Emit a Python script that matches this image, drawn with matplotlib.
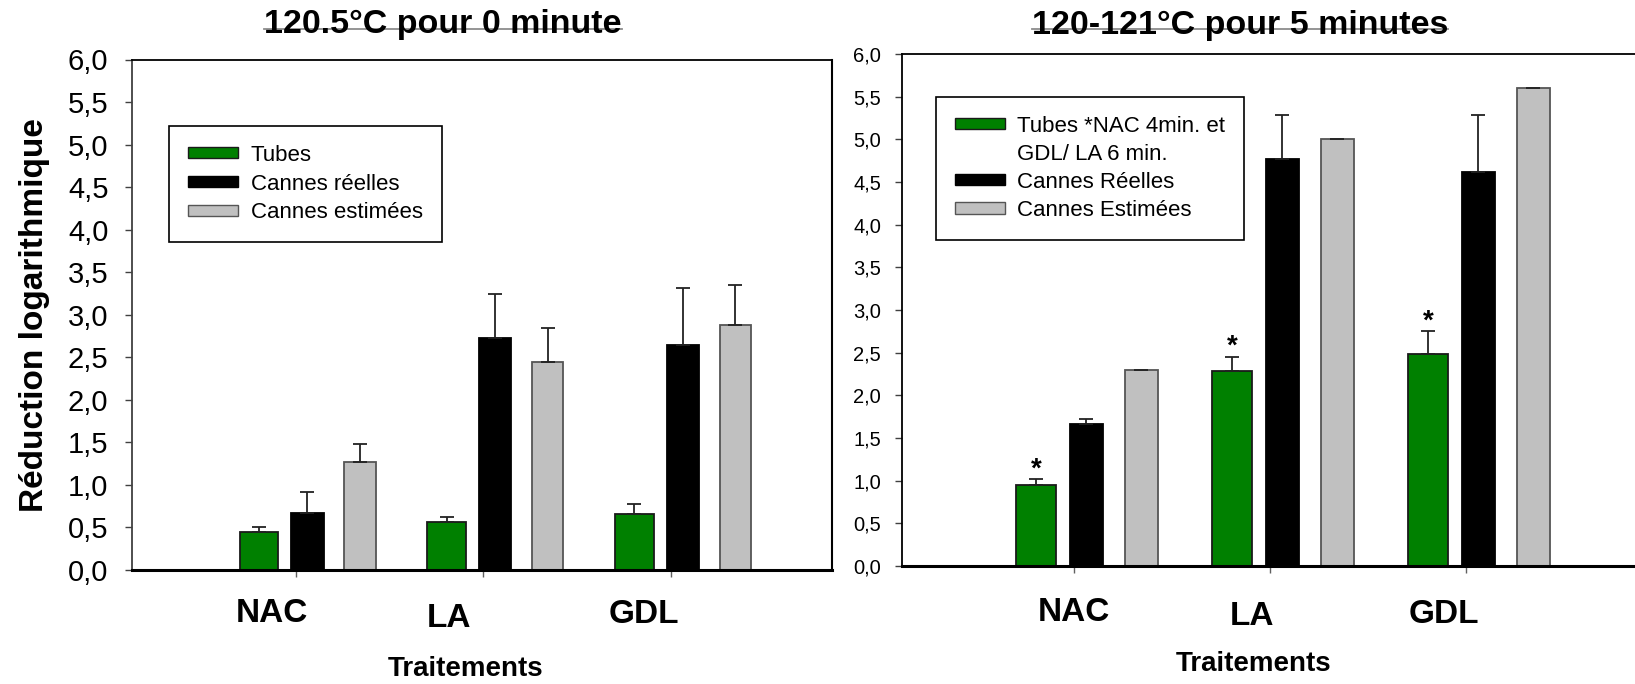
import numpy as np
import matplotlib.pyplot as plt
from matplotlib.patches import Rectangle
from matplotlib.transforms import blended_transform_factory

plt.rcParams['font.family'] = ['Liberation Sans', 'DejaVu Sans']

traitements = ['NAC', 'LA', 'GDL']

# 120.5°C pour 0 minute
tubes_0 = [0.45, 0.56, 0.66]
tubes_0_err = [0.055, 0.06, 0.11]
reelles_0 = [0.67, 2.73, 2.65]
reelles_0_err = [0.25, 0.51, 0.66]
estimees_0 = [1.27, 2.44, 2.88]
estimees_0_err = [0.21, 0.41, 0.47]

# 120-121°C pour 5 minutes
tubes_5 = [0.95, 2.29, 2.49]
tubes_5_err = [0.07, 0.165, 0.265]
reelles_5 = [1.66, 4.77, 4.62]
reelles_5_err = [0.06, 0.51, 0.67]
estimees_5 = [2.30, 5.00, 5.60]
estimees_5_err = [np.nan, np.nan, np.nan]
signif_5 = [True, True, True]

yticks = np.arange(0, 6.01, 0.5)
ytick_labels = [f'{v:.1f}'.replace('.', ',') for v in yticks]

x = np.arange(1, 4)
colors = ['#008000', '#000000', '#c0c0c0']
edges = ['#1a1a1a', '#000000', '#555555']
offsets = [-0.195, 0.063, 0.343]
widths = [0.206, 0.172, 0.167]

fig = plt.figure(figsize=(16.35, 6.84), dpi=100)
ax1 = fig.add_axes([132 / 1635, 114 / 684, 700 / 1635, 510.5 / 684])
ax2 = fig.add_axes([902 / 1635, 118 / 684, 733 / 1635, 512 / 684])


def draw_bars(ax, series):
    for (vals, errs), c, e, off, w in zip(series, colors, edges, offsets, widths):
        ax.bar(x + off, vals, width=w, color=c, edgecolor=e, linewidth=1.3, zorder=2)
        ax.errorbar(x + off, vals, yerr=[np.zeros(3), errs], fmt='none', ecolor='#222222',
                    elinewidth=1.3, capsize=5, capthick=1.3, zorder=3)


def style_axes(ax, xlim, labelsize, pad, right_spine):
    ax.set_xlim(*xlim)
    ax.set_ylim(0, 6)
    ax.set_yticks(yticks)
    ax.set_yticklabels(ytick_labels)
    ax.set_xticks(x)
    ax.tick_params(axis='y', direction='out', length=5, width=1, color='#404040',
                   labelsize=labelsize, pad=pad)
    ax.tick_params(axis='x', direction='out', length=5, width=1, color='#606060',
                   labelbottom=False)
    ax.spines['left'].set_linewidth(1.3)
    ax.spines['left'].set_color('#404040')
    ax.spines['top'].set_linewidth(1.3)
    ax.spines['bottom'].set_linewidth(2.2)
    ax.spines['right'].set_linewidth(1.5)
    ax.spines['right'].set_visible(right_spine)


def cat_labels(ax, offs, ys):
    tr = blended_transform_factory(ax.transData, ax.transAxes)
    for xi, lab, o, yy in zip(x, traitements, offs, ys):
        ax.text(xi + o, yy, lab, transform=tr, ha='center', va='center',
                fontsize=24, fontweight='bold')


# left panel
draw_bars(ax1, [(tubes_0, tubes_0_err), (reelles_0, reelles_0_err), (estimees_0, estimees_0_err)])
style_axes(ax1, (0.128, 3.858), 21, 12, True)
cat_labels(ax1, [-0.128, -0.181, -0.144], [-0.085, -0.095, -0.088])
ax1.text(0.476, -0.194, 'Traitements', transform=ax1.transAxes, ha='center', va='center',
         fontsize=20, fontweight='bold')
ax1.set_ylabel('Réduction logarithmique', fontsize=24, fontweight='bold')
ax1.yaxis.set_label_coords(-0.117, 0.5)
t1 = ax1.text(0.444, 1.051, '120.5°C pour 0 minute', transform=ax1.transAxes,
              ha='center', va='baseline', fontsize=24.5, fontweight='bold')

h1 = [Rectangle((0, 0), 1, 1, facecolor=c, edgecolor=e, linewidth=1) for c, e in zip(colors, edges)]
leg1 = ax1.legend(h1, ['Tubes', 'Cannes réelles', 'Cannes estimées'], loc='upper left',
                  bbox_to_anchor=(0.053, 0.870), borderaxespad=0, fontsize=16,
                  fancybox=False, edgecolor='black', framealpha=1, handlelength=2.27,
                  handleheight=0.4, handletextpad=0.55, labelspacing=0.35, borderpad=0.85)
leg1.get_frame().set_linewidth(1.2)

# right panel
draw_bars(ax2, [(tubes_5, tubes_5_err), (reelles_5, reelles_5_err), (estimees_5, estimees_5_err)])
style_axes(ax2, (0.122, 3.862), 14.5, 10, False)
ax2.spines['left'].set_color('black')
cat_labels(ax2, [0.0, -0.094, -0.112], [-0.090, -0.098, -0.094])
ax2.text(0.48, -0.191, 'Traitements', transform=ax2.transAxes, ha='center', va='center',
         fontsize=20, fontweight='bold')
t2 = ax2.text(0.461, 1.040, '120-121°C pour 5 minutes', transform=ax2.transAxes,
              ha='center', va='baseline', fontsize=24.5, fontweight='bold')

for xi, v, e, s in zip(x, tubes_5, tubes_5_err, signif_5):
    if s:
        ax2.annotate('*', (xi + offsets[0], v + e), xytext=(0, 2), textcoords='offset points',
                     ha='center', va='baseline', fontsize=20, fontweight='bold')

h2 = [Rectangle((0, 0), 1, 1, facecolor=colors[0], edgecolor=edges[0], linewidth=1),
      Rectangle((0, 0), 1, 1, facecolor='none', edgecolor='none'),
      Rectangle((0, 0), 1, 1, facecolor=colors[1], edgecolor=edges[1], linewidth=1),
      Rectangle((0, 0), 1, 1, facecolor=colors[2], edgecolor=edges[2], linewidth=1)]
leg2 = ax2.legend(h2, ['Tubes *NAC 4min. et', 'GDL/ LA 6 min.', 'Cannes Réelles', 'Cannes Estimées'],
                  loc='upper left', bbox_to_anchor=(0.046, 0.9166), borderaxespad=0, fontsize=16,
                  fancybox=False, edgecolor='black', framealpha=1, handlelength=2.27,
                  handleheight=0.4, handletextpad=0.55, labelspacing=0.32, borderpad=0.85)
leg2.get_frame().set_linewidth(1.2)

# grey line running through the titles
fig.canvas.draw()
for ax, t, yl in [(ax1, t1, 1.0592), (ax2, t2, 1.0482)]:
    bb = t.get_window_extent().transformed(ax.transAxes.inverted())
    ax.plot([bb.x0, bb.x1], [yl, yl], transform=ax.transAxes, color='#8c8c8c',
            lw=1.3, clip_on=False, zorder=0)

fig.savefig('out.png', dpi=100)
